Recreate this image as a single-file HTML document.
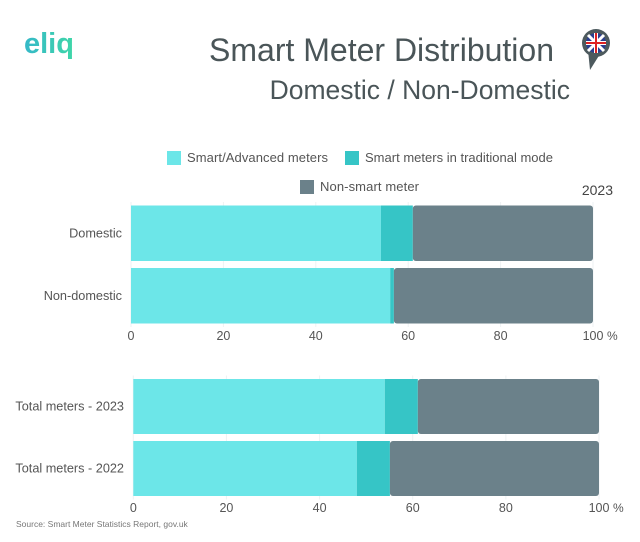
<!DOCTYPE html>
<html><head><meta charset="utf-8"><style>
html,body{margin:0;padding:0;background:#fff;}
body{width:640px;height:537px;overflow:hidden;font-family:"Liberation Sans",sans-serif;}
text{font-family:"Liberation Sans",sans-serif;}
</style></head><body>
<svg id="chart" width="640" height="537" viewBox="0 0 640 537">
  <defs><linearGradient id="lg" x1="0" x2="1"><stop offset="0" stop-color="#35b8c8"/><stop offset="1" stop-color="#3fd6a8"/></linearGradient></defs>
  <text x="24" y="53" font-size="29" font-weight="bold" fill="url(#lg)">eliq</text>
  <text x="554" y="61" text-anchor="end" font-size="32" fill="#4a5558">Smart Meter Distribution</text>
  <text x="570" y="99" text-anchor="end" font-size="26.5" fill="#4a5558">Domestic / Non-Domestic</text>
  <g>
    <path d="M588 50 L590 70 L600 54 Z" fill="#4d5a5e"/>
    <circle cx="596" cy="43" r="14" fill="#4d5a5e"/>
    <circle cx="596" cy="43" r="10" fill="#2a3f8f"/>
    <path d="M588 35 L604 51 M604 35 L588 51" stroke="#fff" stroke-width="3"/>
    <path d="M596 33 V53 M586 43 H606" stroke="#fff" stroke-width="4"/>
    <path d="M596 33 V53 M586 43 H606" stroke="#d22" stroke-width="2"/>
  </g>
  <g>
    <rect x="167" y="151" width="14" height="14" fill="#6ce6e8"/>
    <text x="187" y="162" font-size="13" fill="#555" textLength="141">Smart/Advanced meters</text>
    <rect x="345" y="151" width="14" height="14" fill="#36c5c6"/>
    <text x="365" y="162" font-size="13" fill="#555" textLength="188">Smart meters in traditional mode</text>
    <rect x="300" y="180" width="14" height="14" fill="#6b818a"/>
    <text x="320" y="191" font-size="13" fill="#555" textLength="99">Non-smart meter</text>
  </g>
  <text x="613" y="195" text-anchor="end" font-size="14" fill="#444">2023</text>
  <text x="16" y="527" font-size="8.5" fill="#777">Source: Smart Meter Statistics Report, gov.uk</text>
  <g id="plots"></g>
</svg>
<script>
const topCategories = ["Domestic", "Non-domestic"];
const topSmart = [54.1, 56.1];
const topTraditional = [6.9, 0.8];
const topNonSmart = [39.0, 43.1];
const bottomCategories = ["Total meters - 2023", "Total meters - 2022"];
const bottomSmart = [54.0, 48.0];
const bottomTraditional = [7.1, 7.1];
const bottomNonSmart = [38.9, 44.9];
const tickValues = [0, 20, 40, 60, 80, 100];

const NS = "http://www.w3.org/2000/svg";
const plots = document.getElementById('plots');
const colors = ["#6ce6e8", "#36c5c6", "#6b818a"];
function mk(tag, attrs, parent){const e=document.createElementNS(NS,tag);for(const k in attrs)e.setAttribute(k,attrs[k]);parent.appendChild(e);return e;}

function drawPanel(cfg, cats, s1, s2, s3, prefix){
  const g = mk('g', {}, plots);
  
  
  const x = v => cfg.x0 + (cfg.x1 - cfg.x0) * v / 100;
  tickValues.forEach(t => {
    const gl = mk('line', {x1:x(t), x2:x(t), y1:cfg.y0, y2:cfg.y0 + cfg.band*cats.length, stroke:'#eef2f3', 'stroke-width':1}, g);
    
    
    const tl = mk('text', {x:x(t), y:cfg.tickY, 'text-anchor':'middle', 'font-size':12.5, fill:'#555'}, g);
    tl.textContent = t;
    
    
  });
  const pc = mk('text', {x:x(100)+14, y:cfg.tickY, 'font-size':12, fill:'#555'}, g);
  pc.textContent = '%';
  
  
  cats.forEach((c, i) => {
    const y = cfg.y0 + cfg.band * i + cfg.gap/2;
    const h = cfg.band - cfg.gap;
    const vals = [s1[i], s2[i], s3[i]];
    const names = ['smart', 'traditional', 'nonsmart'];
    let acc = 0;
    vals.forEach((v, j) => {
      const r = mk('rect', {x:x(acc), y:y, width:Math.max(0, x(acc+v)-x(acc)), height:h, fill:colors[j], rx: j===2?3:0}, g);
      
      
      acc += v;
    });
    const lb = mk('text', {x:cfg.labelX, y:y + h/2 + 4, 'text-anchor':'end', 'font-size':12.7, fill:'#555'}, g);
    lb.textContent = c;
    
    
  });
}
drawPanel({x0:131, x1:593, y0:202, band:62.5, gap:7, tickY:340, labelX:122}, topCategories, topSmart, topTraditional, topNonSmart, 'top');
drawPanel({x0:133.3, x1:599, y0:375.5, band:62, gap:7, tickY:512, labelX:124}, bottomCategories, bottomSmart, bottomTraditional, bottomNonSmart, 'bottom');
</script>
</body></html>
